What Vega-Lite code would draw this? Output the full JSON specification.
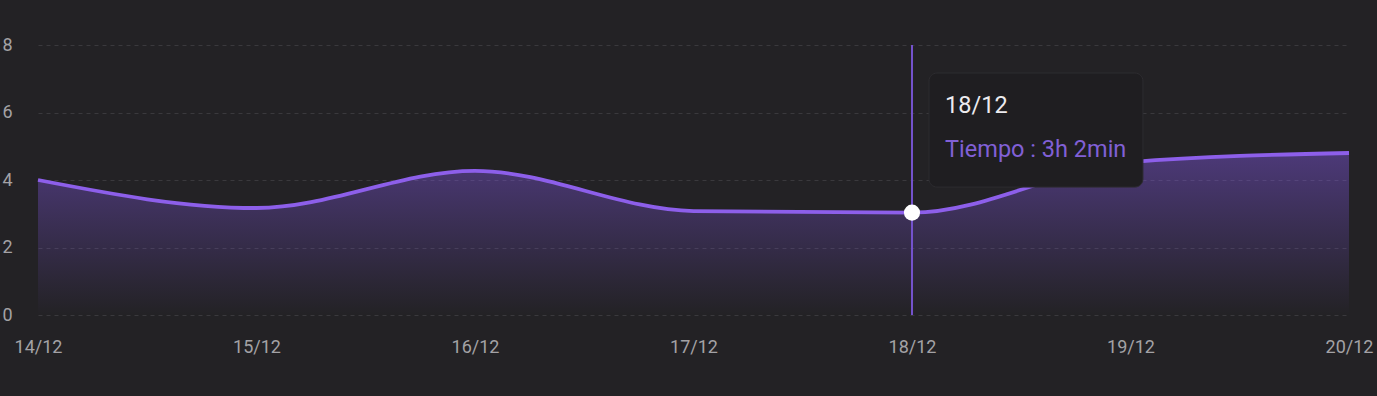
{
  "$schema": "https://vega.github.io/schema/vega-lite/v6.json",
  "width": 1311,
  "height": 270,
  "autosize": "none",
  "padding": {"left": 38, "top": 45, "right": 28, "bottom": 81},
  "background": "#232225",
  "config": {
    "view": {"stroke": null},
    "font": "Roboto",
    "axis": {"labelFont": "Roboto", "labelColor": "#a3a2a6", "labelFontSize": 18}
  },
  "datasets": {
    "series": [
      {"date": "2024-12-14T00:00:00Z", "hours": 4.0},
      {"date": "2024-12-15T00:00:00Z", "hours": 3.17},
      {"date": "2024-12-16T00:00:00Z", "hours": 4.27},
      {"date": "2024-12-17T00:00:00Z", "hours": 3.08},
      {"date": "2024-12-18T00:00:00Z", "hours": 3.033},
      {"date": "2024-12-19T00:00:00Z", "hours": 4.53},
      {"date": "2024-12-20T00:00:00Z", "hours": 4.8}
    ],
    "hover": [
      {"date": "2024-12-18T00:00:00Z", "hours": 3.033, "title": "18/12", "label": "Tiempo : 3h 2min",
       "boxStart": "2024-12-18T01:52:00Z", "boxEnd": "2024-12-19T01:22:00Z", "boxTop": 7.17, "boxBottom": 3.79,
       "textX": "2024-12-18T03:38:00Z", "titleY": 6.2, "labelY": 4.9}
    ]
  },
  "layer": [
    {
      "data": {"name": "series"},
      "mark": {
        "type": "area",
        "interpolate": "monotone",
        "fill": {
          "x1": 0, "y1": 0, "x2": 0, "y2": 1,
          "gradient": "linear",
          "stops": [
            {"offset": 0, "color": "rgba(139,92,246,0.4)"},
            {"offset": 1, "color": "rgba(139,92,246,0.0)"}
          ]
        }
      },
      "encoding": {
        "x": {
          "field": "date", "type": "temporal",
          "scale": {"type": "utc", "domain": [{"year": 2024, "month": 12, "date": 14, "utc": true}, {"year": 2024, "month": 12, "date": 20, "utc": true}], "nice": false},
          "axis": {
            "title": null,
            "labelExpr": "utcFormat(datum.value, '%d/%m')",
            "tickCount": {"interval": "day", "step": 1},
            "domain": false, "ticks": false, "grid": false, "labelPadding": 23,
            "labelFlush": false
          }
        },
        "y": {
          "field": "hours", "type": "quantitative",
          "scale": {"domain": [0, 8], "nice": false},
          "axis": {
            "title": null, "values": [0, 2, 4, 6, 8],
            "domain": false, "ticks": false, "labelPadding": 26,
            "gridColor": "#3a393d", "gridDash": [4, 4], "gridWidth": 1
          }
        }
      }
    },
    {
      "data": {"name": "series"},
      "mark": {"type": "line", "interpolate": "monotone", "color": "#8d5fea", "strokeWidth": 3.8},
      "encoding": {
        "x": {"field": "date", "type": "temporal"},
        "y": {"field": "hours", "type": "quantitative"}
      }
    },
    {
      "data": {"name": "hover"},
      "mark": {"type": "rule", "color": "#7452cc", "strokeWidth": 2},
      "encoding": {
        "x": {"field": "date", "type": "temporal"},
        "y": {"datum": 0},
        "y2": {"datum": 8}
      }
    },
    {
      "data": {"name": "hover"},
      "mark": {"type": "point", "filled": true, "color": "#ffffff", "opacity": 1, "size": 260},
      "encoding": {
        "x": {"field": "date", "type": "temporal"},
        "y": {"field": "hours", "type": "quantitative"}
      }
    },
    {
      "data": {"name": "hover"},
      "mark": {"type": "rect", "fill": "#1f1e21", "stroke": "#2d2c30", "strokeWidth": 1, "cornerRadius": 8},
      "encoding": {
        "x": {"field": "boxStart", "type": "temporal"},
        "x2": {"field": "boxEnd"},
        "y": {"field": "boxTop", "type": "quantitative"},
        "y2": {"field": "boxBottom"}
      }
    },
    {
      "data": {"name": "hover"},
      "mark": {"type": "text", "align": "left", "baseline": "middle", "color": "#ecebef", "fontSize": 23.5, "font": "Roboto"},
      "encoding": {
        "x": {"field": "textX", "type": "temporal"},
        "y": {"field": "titleY", "type": "quantitative"},
        "text": {"field": "title"}
      }
    },
    {
      "data": {"name": "hover"},
      "mark": {"type": "text", "align": "left", "baseline": "middle", "color": "#8160d6", "fontSize": 23.5, "font": "Roboto"},
      "encoding": {
        "x": {"field": "textX", "type": "temporal"},
        "y": {"field": "labelY", "type": "quantitative"},
        "text": {"field": "label"}
      }
    }
  ]
}
